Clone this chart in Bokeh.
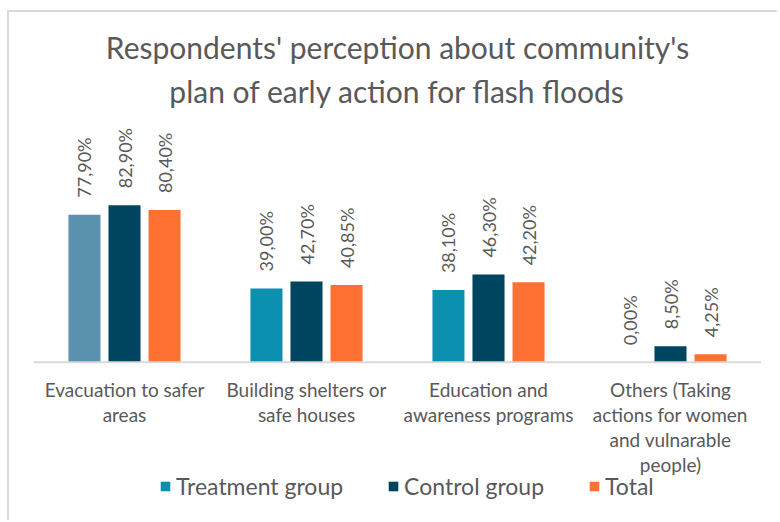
import math
from bokeh.plotting import figure
from bokeh.models import FactorRange, Range1d, ColumnDataSource, Legend, LegendItem, Title, Span
from bokeh.transform import dodge
from bokeh.core.properties import value
from bokeh.embed import file_html
from bokeh.resources import INLINE

categories = ["Evacuation to safer\nareas", "Building shelters or\nsafe houses",
              "Education and\nawareness programs",
              "Others (Taking\nactions for women\nand vulnarable\npeople)"]
treatment = [77.90, 39.00, 38.10, 0.00]
control = [82.90, 42.70, 46.30, 8.50]
total = [80.40, 40.85, 42.20, 4.25]
series_names = ["Treatment group", "Control group", "Total"]
title_lines = ["Respondents' perception about community's", "plan of early action for flash floods"]
treatment_colors = ["#5A91AE", "#0B91AF", "#0B91AF", "#0B91AF"]
control_color = "#004560"
total_color = "#FF7033"

FONT = "Lato"
GRAY = "#595959"

def fmt(v):
    return ("%.2f" % v).replace(".", ",") + "%"

p = figure(x_range=FactorRange(factors=categories, range_padding=0),
           y_range=Range1d(-84.6, 130.3),
           width=770, height=510, output_backend="svg", toolbar_location=None,
           min_border_left=24, min_border_right=18, min_border_top=103, min_border_bottom=0)
p.styles = {"border-left": "2px solid #d9d9d9", "border-top": "2px solid #d9d9d9",
            "margin-left": "7px", "margin-top": "10px"}
p.outline_line_color = None
p.xgrid.grid_line_color = None
p.ygrid.grid_line_color = None
p.xaxis.visible = False
p.yaxis.visible = False

src = ColumnDataSource(dict(cat=categories, t=treatment, c=control, tot=total,
                            zero=[0] * len(categories),
                            tc=treatment_colors,
                            tl=[fmt(v) for v in treatment], cl=[fmt(v) for v in control],
                            totl=[fmt(v) for v in total]))

off = 0.22
w = 0.176
r1 = p.vbar(x=dodge("cat", -off, range=p.x_range), top="t", width=w, source=src, fill_color="tc", line_color=None)
r2 = p.vbar(x=dodge("cat", 0, range=p.x_range), top="c", width=w, source=src, fill_color=control_color, line_color=None)
r3 = p.vbar(x=dodge("cat", off, range=p.x_range), top="tot", width=w, source=src, fill_color=total_color, line_color=None)

p.add_layout(Span(location=0, dimension="width", line_color="#d9d9d9", line_width=2))

for dx, ycol, lcol in [(-off, "t", "tl"), (0, "c", "cl"), (off, "tot", "totl")]:
    p.text(x=dodge("cat", dx, range=p.x_range), y=ycol, text=lcol, source=src,
           angle=math.pi / 2, text_align="left", text_baseline="middle", y_offset=-17,
           text_font=value(FONT), text_font_size="18px", text_color=GRAY)

p.text(x="cat", y="zero", text="cat", source=src, text_align="center", text_baseline="top",
       y_offset=16, text_line_height=1.08,
       text_font=value(FONT), text_font_size="19px", text_color=GRAY)

legend = Legend(items=[LegendItem(label=series_names[0], renderers=[r1], index=1),
                       LegendItem(label=series_names[1], renderers=[r2], index=0),
                       LegendItem(label=series_names[2], renderers=[r3], index=0)],
                orientation="horizontal", location=(126, 22),
                label_text_font=FONT, label_text_font_size="23px", label_text_color=GRAY,
                glyph_width=12, glyph_height=12, label_standoff=5, spacing=44,
                border_line_color=None, background_fill_alpha=0, padding=0, margin=0)
p.add_layout(legend)

# the first title added sits nearest the plot
p.add_layout(Title(text=title_lines[1], align="center", standoff=13, text_line_height=0.8,
                   text_font=FONT, text_font_size="30px", text_font_style="normal",
                   text_color=GRAY), "above")
p.add_layout(Title(text=title_lines[0], align="center", standoff=0, text_line_height=0.8,
                   text_font=FONT, text_font_size="30px", text_font_style="normal",
                   text_color=GRAY), "above")

open("out.html", "w").write(file_html(p, INLINE))
